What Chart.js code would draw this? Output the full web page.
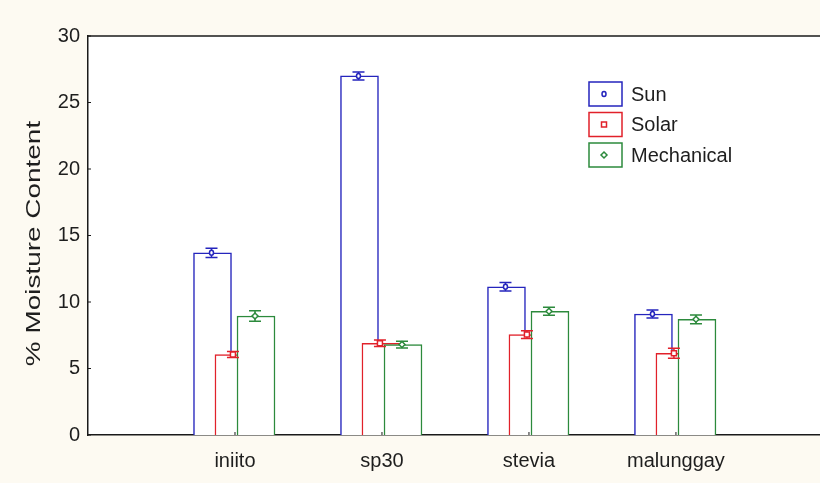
<!DOCTYPE html>
<html>
<head>
<meta charset="utf-8">
<script src="https://cdn.jsdelivr.net/npm/chart.js@4.4.1/dist/chart.umd.min.js"></script>
<style>
  html, body { margin: 0; padding: 0; background: #fdfaf2; }
  #wrap { width: 820px; height: 483px; position: relative; }
</style>
</head>
<body>
<div id="wrap"><canvas id="c" width="820" height="483"></canvas></div>
<script>
// Moisture content (%) by drying method
const categories = ['iniito', 'sp30', 'stevia', 'malunggay'];
const seriesNames = ['Sun', 'Solar', 'Mechanical'];
const sunValues = [13.7, 27.0, 11.15, 9.1];
const solarValues = [6.05, 6.9, 7.55, 6.15];
const mechanicalValues = [8.95, 6.8, 9.3, 8.7];
const sunErrors = [0.35, 0.3, 0.32, 0.3];
const solarErrors = [0.22, 0.25, 0.29, 0.37];
const mechanicalErrors = [0.4, 0.25, 0.3, 0.33];
const yTicks = [0, 5, 10, 15, 20, 25, 30];
const yTitle = '% Moisture Content';

const colors = ['#2525bd', '#e1212a', '#2c8a3c'];
const markers = ['circle', 'rect', 'rectRot'];
const groupOffsets = [-0.153, -0.007, 0.143];
const FONT = '"Liberation Sans", Arial, sans-serif';

const allValues = [sunValues, solarValues, mechanicalValues];
const allErrors = [sunErrors, solarErrors, mechanicalErrors];

const datasets = seriesNames.map((name, s) => ({
  label: name,
  data: categories.map((c, i) => ({ x: i + 1 + groupOffsets[s], y: allValues[s][i] })),
  errors: allErrors[s],
  marker: markers[s],
  backgroundColor: '#ffffff',
  borderColor: colors[s],
  borderWidth: 1.5,
  borderSkipped: 'bottom',
  barThickness: 38,
  grouped: false,
  order: 3 - s
}));

function drawMarker(ctx, type, x, y, r, color) {
  ctx.save();
  ctx.strokeStyle = color;
  ctx.fillStyle = '#ffffff';
  ctx.lineWidth = 1.5;
  ctx.beginPath();
  if (type === 'circle') {
    ctx.ellipse(x, y, r * 0.8, r, 0, 0, Math.PI * 2);
  } else if (type === 'rect') {
    ctx.rect(x - r, y - r, 2 * r, 2 * r);
  } else {
    ctx.moveTo(x, y - r - 0.5);
    ctx.lineTo(x + r + 0.5, y);
    ctx.lineTo(x, y + r + 0.5);
    ctx.lineTo(x - r - 0.5, y);
    ctx.closePath();
  }
  ctx.fill();
  ctx.stroke();
  ctx.restore();
}

const plotFrame = {
  id: 'plotFrame',
  beforeDraw(chart) {
    const { ctx, chartArea: a } = chart;
    ctx.save();
    ctx.fillStyle = '#fdfaf2';
    ctx.fillRect(0, 0, chart.width, chart.height);
    ctx.fillStyle = '#ffffff';
    ctx.fillRect(a.left, a.top, a.right - a.left, a.bottom - a.top);
    ctx.restore();
  },
  afterDraw(chart) {
    const { ctx, chartArea: a } = chart;
    ctx.save();
    ctx.strokeStyle = '#1a1a1a';
    ctx.lineWidth = 1.5;
    ctx.beginPath();
    ctx.moveTo(a.left, a.top);
    ctx.lineTo(a.right, a.top);
    ctx.stroke();
    // small inward ticks
    ctx.lineWidth = 1;
    const ys = chart.scales.y;
    ys.ticks.forEach(t => {
      const py = ys.getPixelForValue(t.value);
      ctx.beginPath(); ctx.moveTo(a.left, py); ctx.lineTo(a.left + 3, py); ctx.stroke();
    });
    const xs = chart.scales.x;
    xs.ticks.forEach(t => {
      const px = xs.getPixelForValue(t.value);
      ctx.beginPath(); ctx.moveTo(px, a.bottom); ctx.lineTo(px, a.bottom - 3); ctx.stroke();
    });
    // vertical axis title, drawn elongated along its reading direction
    ctx.translate(34, (a.top + a.bottom) / 2 + 8);
    ctx.rotate(-Math.PI / 2);
    ctx.scale(1.33, 1);
    ctx.fillStyle = '#1e1e1e';
    ctx.font = '21px ' + FONT;
    ctx.textAlign = 'center';
    ctx.textBaseline = 'middle';
    ctx.fillText(yTitle, 0, 0);
    ctx.restore();
  }
};

const errorBars = {
  id: 'errorBars',
  afterDatasetsDraw(chart) {
    const { ctx } = chart;
    const ys = chart.scales.y;
    chart.data.datasets.forEach((ds, di) => {
      const meta = chart.getDatasetMeta(di);
      meta.data.forEach((bar, i) => {
        const v = ds.data[i].y, e = ds.errors[i];
        const x = bar.x - 1;
        const yHi = ys.getPixelForValue(v + e);
        const yLo = ys.getPixelForValue(v - e);
        const yv = ys.getPixelForValue(v);
        ctx.save();
        ctx.strokeStyle = ds.borderColor;
        ctx.lineWidth = 1.5;
        ctx.beginPath();
        ctx.moveTo(x, yHi); ctx.lineTo(x, yLo);
        ctx.moveTo(x - 6, yHi); ctx.lineTo(x + 6, yHi);
        ctx.moveTo(x - 6, yLo); ctx.lineTo(x + 6, yLo);
        ctx.stroke();
        ctx.restore();
        drawMarker(ctx, ds.marker, x, yv, 2.5, ds.borderColor);
      });
    });
  }
};

const boxLegend = {
  id: 'boxLegend',
  afterDraw(chart) {
    const { ctx } = chart;
    const x0 = 589, y0 = 82, boxW = 33, boxH = 24, step = 30.5;
    ctx.save();
    chart.data.datasets.forEach((ds, i) => {
      const y = y0 + i * step;
      ctx.fillStyle = '#ffffff';
      ctx.fillRect(x0, y, boxW, boxH);
      ctx.strokeStyle = ds.borderColor;
      ctx.lineWidth = 1.5;
      ctx.strokeRect(x0, y, boxW, boxH);
      drawMarker(ctx, ds.marker, x0 + 15, y + boxH / 2, 2.5, ds.borderColor);
      ctx.fillStyle = '#1e1e1e';
      ctx.font = '20px ' + FONT;
      ctx.textBaseline = 'middle';
      ctx.textAlign = 'left';
      ctx.fillText(ds.label, x0 + 42, y + boxH / 2 + 1);
    });
    ctx.restore();
  }
};

new Chart(document.getElementById('c'), {
  type: 'bar',
  data: { datasets },
  plugins: [plotFrame, errorBars, boxLegend],
  options: {
    responsive: false,
    animation: false,
    layout: { padding: { top: 36, right: 0, left: 0, bottom: 0 } },
    plugins: { legend: { display: false }, tooltip: { enabled: false } },
    scales: {
      x: {
        type: 'linear',
        offset: false,
        min: 0,
        max: 4.98,
        grid: { display: false, drawTicks: false, offset: false },
        border: { display: true, color: '#1a1a1a', width: 1.5 },
        afterBuildTicks(scale) {
          scale.ticks = categories.map((c, i) => ({ value: i + 1 }));
        },
        afterFit(scale) { scale.height = 48; },
        ticks: {
          autoSkip: false,
          maxRotation: 0,
          padding: 14,
          color: '#1e1e1e',
          font: { family: FONT, size: 20 },
          callback: (v) => categories[v - 1]
        }
      },
      y: {
        min: 0,
        max: 30,
        grid: { display: false, drawTicks: false },
        border: { display: true, color: '#1a1a1a', width: 1.5 },
        afterBuildTicks(scale) {
          scale.ticks = yTicks.map(v => ({ value: v }));
        },
        afterFit(scale) { scale.width = 88; },
        ticks: {
          padding: 8,
          color: '#1e1e1e',
          font: { family: FONT, size: 20 }
        }
      }
    }
  }
});
</script>
</body>
</html>
